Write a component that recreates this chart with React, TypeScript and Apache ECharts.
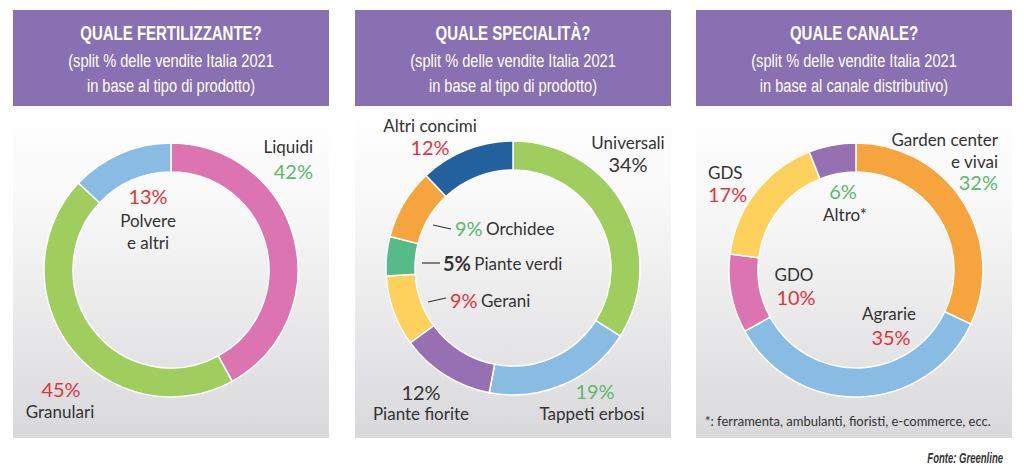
import React, { useEffect, useRef } from "react";
import * as echarts from "echarts";

// ---------- DATA ----------
const fertCategories = ["Liquidi", "Granulari", "Polvere\ne altri"];
const fertValues = [42, 45, 13];

const specCategories = [
  "Universali",
  "Tappeti erbosi",
  "Piante fiorite",
  "Gerani",
  "Piante verdi",
  "Orchidee",
  "Altri concimi",
];
const specValues = [34, 19, 12, 9, 5, 9, 12];

const canaleCategories = ["Garden center\ne vivai", "Agrarie", "GDO", "GDS", "Altro*"];
const canaleValues = [32, 35, 10, 17, 6];

const panelTitles = ["QUALE FERTILIZZANTE?", "QUALE SPECIALITÀ?", "QUALE CANALE?"];
const panelSubtitles = [
  ["(split % delle vendite Italia 2021", "in base al tipo di prodotto)"],
  ["(split % delle vendite Italia 2021", "in base al tipo di prodotto)"],
  ["(split % delle vendite Italia 2021", "in base al canale distributivo)"],
];
const footnote = "*: ferramenta, ambulanti, fioristi, e-commerce, ecc.";
const sourceText = "Fonte: Greenline";

// ---------- STYLES / LAYOUT ----------
const fertColors = ["#db74b0", "#9fcd5e", "#88bce3"];
const specColors = ["#9fcd5e", "#88bce3", "#9670b2", "#fdd15c", "#55bb88", "#f6a43e", "#23619f"];
const canaleColors = ["#f6a43e", "#88bce3", "#db74b0", "#fdd15c", "#9670b2"];

const RED = "#e2343c";
const GREEN = "#5cb86a";
const DARK = "#333333";
const HEADER = "#8970b2";
const LABEL_FONT = "Lato, 'Open Sans', sans-serif";
const HEAD_FONT = "'Liberation Sans', Arial, sans-serif";

const panelX = [13, 355, 696];
const panelW = 316;
const pieCenters = [
  [171, 270],
  [513, 268],
  [856, 270],
];
const pieRadius = [98, 127];

type Lay = {
  mode: "stack" | "inline";
  nx?: number; ny?: number; px?: number; py?: number;
  align?: "left" | "center" | "right";
  color: string;
  bold?: boolean;
  line?: number[];
  ix?: number; iy?: number;
};

const fertLayout: Lay[] = [
  { mode: "stack", nx: 313, ny: 146, px: 313, py: 171, align: "right", color: GREEN },
  { mode: "stack", nx: 60, ny: 411, px: 61, py: 389, align: "center", color: RED },
  { mode: "stack", nx: 148, ny: 231.5, px: 148, py: 196, align: "center", color: RED },
];
const specLayout: Lay[] = [
  { mode: "stack", nx: 628, ny: 142, px: 628, py: 164, align: "center", color: DARK },
  { mode: "stack", nx: 592, ny: 413, px: 595, py: 391, align: "center", color: GREEN },
  { mode: "stack", nx: 421, ny: 413, px: 421, py: 392, align: "center", color: DARK },
  { mode: "inline", ix: 450, iy: 300, color: RED, line: [428, 302, 446, 298] },
  { mode: "inline", ix: 443, iy: 263, color: DARK, bold: true, line: [422, 263, 440, 263] },
  { mode: "inline", ix: 455, iy: 228, color: GREEN, line: [433, 225, 451, 229] },
  { mode: "stack", nx: 430, ny: 125, px: 430, py: 147, align: "center", color: RED },
];
const canaleLayout: Lay[] = [
  { mode: "stack", nx: 998, ny: 150, px: 998, py: 182, align: "right", color: GREEN },
  { mode: "stack", nx: 889, ny: 313, px: 891, py: 337, align: "center", color: RED },
  { mode: "stack", nx: 794, ny: 274, px: 796, py: 297, align: "center", color: RED },
  { mode: "stack", nx: 708, ny: 172, px: 708, py: 194, align: "left", color: RED },
  { mode: "stack", nx: 845, ny: 214, px: 843, py: 191, align: "center", color: GREEN },
];

function labelGraphics(cats: string[], vals: number[], lay: Lay[]) {
  const out: any[] = [];
  cats.forEach((c, i) => {
    const L = lay[i];
    const pct = `${vals[i]}%`;
    if (L.mode === "stack") {
      const multi = c.includes("\n");
      out.push({
        type: "text",
        x: L.nx,
        y: L.ny,
        z: 10,
        style: {
          text: c,
          fill: DARK,
          font: `17px ${LABEL_FONT}`,
          align: L.align,
          verticalAlign: "middle",
          lineHeight: multi ? 22 : undefined,
        },
      });
      out.push({
        type: "text",
        x: L.px,
        y: L.py,
        z: 10,
        style: {
          text: pct,
          fill: L.color,
          font: `${L.bold ? "bold " : ""}20px ${LABEL_FONT}`,
          align: L.align,
          verticalAlign: "middle",
        },
      });
    } else {
      out.push({
        type: "line",
        z: 10,
        shape: { x1: L.line![0], y1: L.line![1], x2: L.line![2], y2: L.line![3] },
        style: { stroke: DARK, lineWidth: 1.2 },
      });
      out.push({
        type: "text",
        x: L.ix,
        y: L.iy,
        z: 10,
        style: {
          text: `{p|${pct}} {n|${c}}`,
          align: "left",
          verticalAlign: "middle",
          rich: {
            p: {
              fill: L.color,
              font: `${L.bold ? "bold " : ""}20px ${LABEL_FONT}`,
            },
            n: { fill: DARK, font: `17px ${LABEL_FONT}` },
          },
        },
      });
    }
  });
  return out;
}

function pieSeries(cats: string[], vals: number[], colors: string[], idx: number) {
  return {
    type: "pie",
    center: pieCenters[idx],
    radius: pieRadius,
    startAngle: 90,
    clockwise: true,
    silent: true,
    label: { show: false },
    labelLine: { show: false },
    emphasis: { disabled: true },
    itemStyle: { borderColor: "#ffffff", borderWidth: 1.5 },
    data: cats.map((c, i) => ({
      name: c.replace("\n", " "),
      value: vals[i],
      itemStyle: { color: colors[i] },
    })),
  };
}

export default function App() {
  const ref = useRef<HTMLDivElement>(null);
  useEffect(() => {
    if (!ref.current) return;
    const chart = echarts.init(ref.current, null, { renderer: "svg" });

    const graphics: any[] = [];
    panelX.forEach((x, i) => {
      graphics.push({
        type: "rect",
        z: 0,
        shape: { x, y: 108, width: panelW, height: 330 },
        style: {
          fill: new echarts.graphic.LinearGradient(0, 0, 0, 1, [
            { offset: 0, color: "#ffffff" },
            { offset: 0.3, color: "#f8f8f8" },
            { offset: 1, color: "#d9d9dc" },
          ]),
        },
      });
      graphics.push({
        type: "rect",
        z: 1,
        shape: { x, y: 10, width: panelW, height: 96 },
        style: { fill: HEADER },
      });
      graphics.push({
        type: "text",
        z: 10,
        x: x + panelW / 2,
        y: 33,
        scaleX: 0.75,
        style: {
          text: panelTitles[i],
          fill: "#ffffff",
          font: `bold 20px ${HEAD_FONT}`,
          align: "center",
          verticalAlign: "middle",
        },
      });
      panelSubtitles[i].forEach((s, j) => {
        graphics.push({
          type: "text",
          z: 10,
          x: x + panelW / 2,
          y: 61 + j * 25,
          scaleX: 0.77,
          style: {
            text: s,
            fill: "#ffffff",
            font: `19px ${HEAD_FONT}`,
            align: "center",
            verticalAlign: "middle",
          },
        });
      });
    });

    graphics.push(...labelGraphics(fertCategories, fertValues, fertLayout));
    graphics.push(...labelGraphics(specCategories, specValues, specLayout));
    graphics.push(...labelGraphics(canaleCategories, canaleValues, canaleLayout));

    graphics.push({
      type: "text",
      z: 10,
      x: 705,
      y: 421,
      style: {
        text: footnote,
        fill: DARK,
        font: `13px ${LABEL_FONT}`,
        align: "left",
        verticalAlign: "middle",
      },
    });
    graphics.push({
      type: "text",
      z: 10,
      x: 1003,
      y: 458,
      scaleX: 0.68,
      style: {
        text: sourceText,
        fill: DARK,
        font: `italic bold 14px ${HEAD_FONT}`,
        align: "right",
        verticalAlign: "middle",
      },
    });

    chart.setOption({
      animation: false,
      backgroundColor: "#ffffff",
      graphic: { elements: graphics },
      series: [
        pieSeries(fertCategories, fertValues, fertColors, 0),
        pieSeries(specCategories, specValues, specColors, 1),
        pieSeries(canaleCategories, canaleValues, canaleColors, 2),
      ],
    });
    return () => chart.dispose();
  }, []);

  return (
    <div
      ref={ref}
      style={{ position: "fixed", left: 0, top: 0, width: 1024, height: 469 }}
    />
  );
}
